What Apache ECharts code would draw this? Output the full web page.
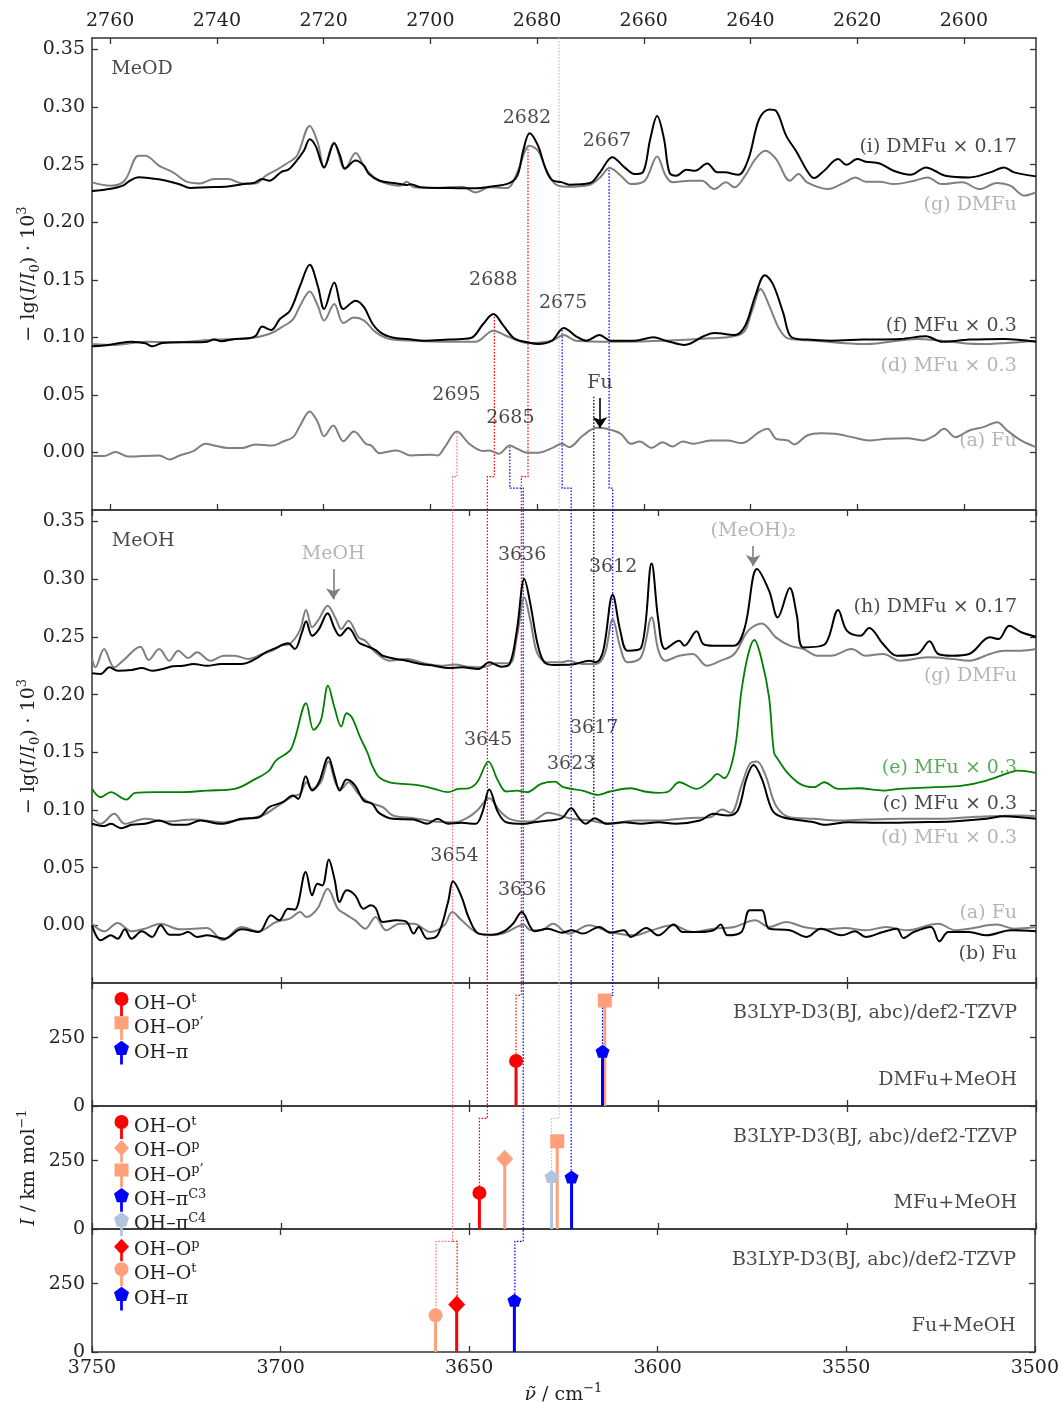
<!DOCTYPE html>
<html><head><meta charset="utf-8">
<script src="https://cdn.jsdelivr.net/npm/echarts@6/dist/echarts.min.js"></script>
<style>html,body{margin:0;padding:0;background:#fff}#c{width:1062px;height:1409px}</style>
</head><body><div id="c"></div><script>
// ---------- tick labels ----------
const odTicks = [2600,2620,2640,2660,2680,2700,2720,2740,2760];
const ohTicks = [3500,3550,3600,3650,3700,3750];
const absTicks = [0,0.05,0.10,0.15,0.20,0.25,0.30,0.35];
const intTicks = [0,250];

// ---------- MeOD panel (x = OD wavenumber) ----------
const meod_i_DMFu = [[2763.4,0.227],[2759.9,0.229],[2757.6,0.2317],[2756.3,0.236],[2754.7,0.239],[2752.8,0.2383],[2749.5,0.236],[2747.0,0.233],[2745.0,0.2297],[2741.8,0.2303],[2737.9,0.231],[2735.3,0.233],[2733.1,0.234],[2731.5,0.2375],[2730.2,0.236],[2727.9,0.2438],[2726.6,0.2456],[2725.3,0.2519],[2723.7,0.262],[2722.6,0.2721],[2721.5,0.2663],[2719.9,0.2476],[2718.0,0.2686],[2716.9,0.2577],[2716.0,0.2467],[2714.0,0.2536],[2712.4,0.249],[2711.5,0.2418],[2709.5,0.236],[2706.3,0.2337],[2704.4,0.2323],[2703.7,0.233],[2701.8,0.2303],[2696.6,0.2297],[2691.5,0.2294],[2688.9,0.2308],[2685.3,0.2337],[2683.7,0.2404],[2682.6,0.262],[2681.4,0.2773],[2679.8,0.2663],[2678.5,0.2476],[2677.2,0.2366],[2675.3,0.2346],[2674.0,0.2326],[2670.1,0.234],[2668.2,0.2433],[2665.9,0.2565],[2663.6,0.2476],[2661.7,0.2418],[2660.1,0.2438],[2658.8,0.2721],[2657.5,0.2923],[2656.2,0.2721],[2655.2,0.2433],[2653.9,0.2404],[2652.0,0.2456],[2650.4,0.2447],[2648.1,0.251],[2646.2,0.2433],[2644.9,0.2433],[2642.3,0.2412],[2640.4,0.2548],[2638.4,0.2894],[2636.5,0.298],[2635.2,0.2966],[2633.3,0.275],[2631.3,0.2606],[2629.4,0.2447],[2628.1,0.2383],[2626.2,0.2447],[2623.6,0.2548],[2622.0,0.2499],[2620.0,0.2548],[2618.4,0.2525],[2615.8,0.251],[2613.2,0.2447],[2610.0,0.2412],[2607.1,0.2476],[2605.5,0.2447],[2603.5,0.2404],[2599.0,0.2389],[2595.1,0.2433],[2592.5,0.2476],[2590.6,0.2433],[2586.5,0.2398]];
const meod_g_DMFu = [[2763.4,0.2346],[2759.9,0.2317],[2757.3,0.236],[2754.7,0.2577],[2753.4,0.2577],[2750.8,0.249],[2748.2,0.2433],[2745.7,0.2352],[2743.1,0.2337],[2740.5,0.2375],[2737.9,0.2375],[2735.3,0.2337],[2732.8,0.2337],[2730.8,0.2404],[2728.9,0.2453],[2726.9,0.251],[2725.0,0.2577],[2722.6,0.2836],[2721.1,0.2692],[2719.9,0.2476],[2718.1,0.2692],[2716.0,0.2461],[2714.0,0.26],[2712.1,0.2461],[2709.5,0.236],[2705.6,0.2317],[2704.4,0.2352],[2703.1,0.2303],[2699.2,0.2297],[2694.0,0.2308],[2691.5,0.2259],[2688.9,0.2303],[2685.6,0.2297],[2683.7,0.2433],[2681.4,0.2663],[2679.8,0.262],[2678.2,0.2447],[2676.6,0.2331],[2674.6,0.2308],[2670.1,0.2326],[2668.2,0.2389],[2666.4,0.247],[2664.3,0.2404],[2662.4,0.2331],[2659.8,0.236],[2657.5,0.2571],[2655.9,0.2404],[2654.6,0.2346],[2651.4,0.236],[2649.1,0.236],[2646.8,0.2288],[2644.6,0.2346],[2643.0,0.2303],[2641.0,0.2404],[2639.1,0.2548],[2637.2,0.262],[2635.2,0.2548],[2632.6,0.236],[2631.0,0.2418],[2629.4,0.2346],[2625.5,0.2288],[2622.3,0.2346],[2620.4,0.2389],[2618.4,0.2352],[2615.8,0.2352],[2613.2,0.2331],[2609.3,0.236],[2606.8,0.2389],[2604.2,0.2331],[2600.3,0.2346],[2597.1,0.2288],[2593.8,0.234],[2591.3,0.2317],[2588.7,0.2231],[2586.5,0.226]];
const meod_f_MFu = [[2763.4,0.0922],[2761.2,0.0928],[2759.2,0.0942],[2756.0,0.0962],[2753.4,0.0948],[2752.1,0.0922],[2750.2,0.0951],[2747.0,0.0957],[2744.4,0.0957],[2741.8,0.0962],[2740.5,0.098],[2739.2,0.0966],[2736.6,0.0986],[2734.0,0.0991],[2732.7,0.1014],[2731.5,0.1093],[2729.8,0.1064],[2728.2,0.1159],[2726.3,0.1231],[2724.4,0.1448],[2722.6,0.163],[2721.1,0.1448],[2719.9,0.1246],[2718.0,0.1477],[2716.3,0.1246],[2714.0,0.1318],[2712.4,0.126],[2710.8,0.1116],[2708.9,0.1029],[2706.3,0.0991],[2704.4,0.0986],[2701.1,0.0971],[2696.6,0.098],[2694.0,0.0986],[2692.1,0.1],[2690.1,0.1116],[2688.2,0.1202],[2686.3,0.1101],[2684.3,0.0991],[2681.8,0.0957],[2679.8,0.0942],[2677.2,0.0971],[2675.0,0.1081],[2672.7,0.1009],[2670.8,0.0971],[2668.3,0.102],[2666.2,0.0971],[2661.7,0.0971],[2658.2,0.1],[2655.9,0.0971],[2652.3,0.0934],[2648.8,0.1009],[2646.8,0.1038],[2643.0,0.102],[2641.0,0.1101],[2639.1,0.1361],[2637.3,0.154],[2635.8,0.1462],[2633.9,0.1217],[2632.3,0.1],[2629.4,0.098],[2624.9,0.0971],[2619.0,0.098],[2611.9,0.0986],[2607.1,0.1009],[2604.2,0.0962],[2599.0,0.098],[2592.5,0.0986],[2586.5,0.0962]];
const meod_d_MFu = [[2763.4,0.0942],[2759.2,0.0934],[2753.4,0.0962],[2747.0,0.0957],[2740.5,0.098],[2734.0,0.0991],[2730.2,0.1029],[2727.6,0.1095],[2725.7,0.1159],[2724.4,0.1275],[2722.6,0.1399],[2721.1,0.1275],[2719.9,0.1145],[2718.0,0.129],[2716.3,0.1124],[2714.3,0.1173],[2712.4,0.1145],[2710.2,0.1043],[2707.6,0.0986],[2703.1,0.0971],[2696.6,0.0962],[2691.5,0.0962],[2688.2,0.1058],[2685.6,0.1009],[2681.8,0.0951],[2677.2,0.0971],[2675.0,0.102],[2672.7,0.0971],[2663.6,0.0962],[2647.5,0.0991],[2641.7,0.1029],[2639.7,0.1231],[2638.1,0.1419],[2636.5,0.1275],[2634.6,0.1072],[2633.0,0.0991],[2628.1,0.0971],[2618.4,0.0942],[2608.7,0.0986],[2597.1,0.0942],[2586.5,0.0971]];
const meod_a_Fu = [[2763.4,-0.0032],[2761.2,-0.0032],[2759.0,0.0003],[2756.7,-0.0035],[2750.8,-0.0026],[2748.9,-0.0061],[2747.0,-0.0026],[2744.4,0.0012],[2742.1,0.0075],[2740.5,0.0061],[2737.9,0.0038],[2735.3,0.0038],[2732.8,0.007],[2729.5,0.0061],[2727.6,0.0095],[2725.7,0.0133],[2724.4,0.0234],[2722.6,0.0356],[2721.1,0.0263],[2719.9,0.0141],[2718.2,0.0234],[2716.3,0.0098],[2714.3,0.0182],[2712.1,0.0075],[2711.1,0.0061],[2709.5,-0.0006],[2706.3,0.0017],[2703.7,-0.0026],[2699.8,-0.002],[2698.6,-0.0026],[2697.3,0.0046],[2695.0,0.0182],[2692.7,0.0075],[2690.1,0.0012],[2688.9,0.0017],[2687.2,-0.0012],[2685.1,0.0061],[2683.7,0.0032],[2681.8,-0.0003],[2679.8,-0.0003],[2677.2,0.0038],[2675.3,0.0075],[2674.0,0.0046],[2671.4,0.0147],[2668.8,0.0214],[2666.9,0.0205],[2664.3,0.0162],[2662.4,0.0075],[2660.8,0.0095],[2658.5,0.004],[2656.5,0.0089],[2654.6,0.0052],[2652.7,0.0095],[2650.7,0.0075],[2647.5,0.0104],[2644.3,0.0104],[2641.7,0.0081],[2638.4,0.0176],[2636.8,0.0205],[2635.2,0.0118],[2633.0,0.0104],[2631.8,0.007],[2629.4,0.0147],[2626.8,0.0167],[2624.2,0.0162],[2621.0,0.0133],[2617.8,0.0104],[2614.5,0.0118],[2610.6,0.0124],[2607.7,0.0104],[2605.5,0.0147],[2603.7,0.0205],[2601.6,0.0133],[2599.0,0.0191],[2596.4,0.022],[2593.8,0.0263],[2591.9,0.0191],[2589.3,0.0104],[2586.5,0.0046]];

// ---------- MeOH panel (x = OH wavenumber) ----------
const meoh_h_DMFu = [[3750,0.2184],[3747.7,0.2179],[3745.4,0.2236],[3743.2,0.2207],[3739.5,0.2213],[3736.8,0.223],[3734.1,0.2207],[3731.3,0.2222],[3728.6,0.2245],[3725.9,0.225],[3723.1,0.2265],[3719.5,0.225],[3715.8,0.2265],[3710.4,0.2265],[3706.7,0.2309],[3704.0,0.2366],[3701.3,0.2404],[3698.1,0.2444],[3696.3,0.2395],[3694.4,0.2539],[3693.3,0.2635],[3691.7,0.251],[3689.9,0.2568],[3687.6,0.2704],[3685.8,0.2577],[3684.4,0.251],[3682.1,0.2577],[3679.4,0.2453],[3677.6,0.2424],[3674.9,0.2386],[3673.0,0.2337],[3669.4,0.2309],[3666.7,0.2294],[3663.0,0.2265],[3659.4,0.225],[3655.7,0.223],[3652.1,0.2236],[3647.6,0.2222],[3644.8,0.228],[3641.7,0.2242],[3639.4,0.2265],[3637.5,0.2554],[3635.5,0.3001],[3633.9,0.2784],[3632.0,0.2438],[3630.2,0.228],[3627.4,0.2257],[3622.9,0.226],[3618.3,0.2294],[3616.5,0.228],[3614.6,0.2381],[3612.1,0.2866],[3610.1,0.2554],[3608.2,0.2381],[3604.6,0.2404],[3601.8,0.3137],[3600.0,0.264],[3598.2,0.2395],[3594.5,0.2467],[3593.1,0.2424],[3589.9,0.2548],[3588.1,0.2438],[3585.4,0.2424],[3579.9,0.2424],[3577.1,0.2583],[3573.9,0.3088],[3570.7,0.2901],[3568.4,0.2669],[3565.2,0.2924],[3563.4,0.2698],[3561.6,0.2409],[3556.1,0.2432],[3552.4,0.2733],[3550.1,0.2554],[3546.5,0.251],[3544.2,0.2577],[3540.5,0.2438],[3536.9,0.2337],[3531.4,0.2352],[3528.2,0.2462],[3525.9,0.2352],[3522.2,0.2337],[3517.7,0.2352],[3512.2,0.2496],[3509.9,0.2481],[3507.1,0.2597],[3503.9,0.254],[3500,0.2502]];
const meoh_g_DMFu = [[3750,0.2317],[3749.1,0.2236],[3746.8,0.2395],[3744.1,0.2236],[3741.8,0.2294],[3737.2,0.2415],[3735.0,0.23],[3732.2,0.2395],[3729.5,0.2294],[3727.2,0.2381],[3724.5,0.2317],[3722.2,0.2366],[3718.6,0.2294],[3715.1,0.2337],[3712.2,0.2337],[3708.6,0.2309],[3704.9,0.2352],[3702.2,0.2381],[3700.0,0.2424],[3697.7,0.2438],[3695.0,0.2554],[3693.3,0.2733],[3691.7,0.2583],[3689.9,0.2655],[3687.6,0.277],[3685.4,0.2655],[3684.0,0.2568],[3682.1,0.264],[3679.4,0.2496],[3677.6,0.2467],[3674.9,0.2366],[3671.2,0.2294],[3666.7,0.2309],[3662.1,0.2271],[3657.6,0.225],[3653.9,0.226],[3650.3,0.2242],[3646.6,0.2236],[3643.0,0.2271],[3639.4,0.2271],[3637.5,0.2496],[3635.5,0.2842],[3633.9,0.264],[3632.0,0.2352],[3629.3,0.228],[3625.6,0.228],[3623.8,0.2294],[3620.1,0.2265],[3616.5,0.2265],[3614.2,0.2352],[3612.1,0.2655],[3610.1,0.2409],[3608.2,0.228],[3604.6,0.2323],[3601.8,0.2669],[3600.0,0.2381],[3598.2,0.2294],[3594.5,0.2337],[3590.9,0.2352],[3587.2,0.225],[3583.5,0.2294],[3579.9,0.2352],[3576.2,0.2554],[3572.6,0.2617],[3568.9,0.2496],[3565.2,0.2424],[3561.6,0.2395],[3557.9,0.2337],[3554.3,0.2337],[3548.8,0.2395],[3545.1,0.2337],[3540.5,0.2352],[3536.0,0.2294],[3528.7,0.2323],[3522.2,0.2309],[3517.7,0.2294],[3512.2,0.2352],[3508.5,0.2381],[3503.9,0.2381],[3500,0.2395]];
const meoh_e_MFu = [[3750,0.1183],[3747.7,0.111],[3745.0,0.1154],[3740.9,0.109],[3738.6,0.1148],[3733.2,0.1154],[3726.8,0.1154],[3719.5,0.1168],[3712.2,0.1183],[3706.7,0.1269],[3703.1,0.1341],[3701.3,0.1428],[3697.6,0.1514],[3696.3,0.1616],[3693.3,0.1925],[3691.3,0.1694],[3689.4,0.1775],[3687.5,0.2078],[3685.8,0.189],[3684.0,0.1723],[3682.6,0.1838],[3681.2,0.1804],[3679.0,0.1631],[3677.1,0.15],[3675.8,0.1385],[3674.0,0.1284],[3671.2,0.124],[3667.6,0.1226],[3663.0,0.1211],[3659.4,0.1183],[3655.7,0.1154],[3653.0,0.1183],[3650.3,0.1188],[3648.0,0.124],[3645.0,0.1419],[3642.5,0.1255],[3640.3,0.116],[3637.5,0.1168],[3634.8,0.1154],[3631.1,0.1226],[3627.4,0.1246],[3625.2,0.1197],[3620.1,0.1168],[3616.0,0.1131],[3612.8,0.116],[3607.3,0.1188],[3603.7,0.116],[3600.0,0.1148],[3597.3,0.116],[3594.5,0.124],[3589.9,0.1183],[3586.3,0.1255],[3584.4,0.1313],[3582.6,0.1275],[3579.9,0.15],[3578.0,0.2034],[3576.2,0.2352],[3574.6,0.2473],[3572.6,0.2294],[3570.7,0.1977],[3569.4,0.15],[3568.4,0.1442],[3566.1,0.1333],[3562.5,0.1226],[3558.8,0.1197],[3556.1,0.124],[3552.4,0.1183],[3546.9,0.1188],[3540.5,0.1168],[3536.0,0.1183],[3526.8,0.1197],[3519.5,0.1211],[3513.1,0.1255],[3506.7,0.1327],[3504.8,0.1341],[3500,0.1321]];
const meoh_c_MFu = [[3750,0.088],[3746.8,0.086],[3745.0,0.088],[3742.3,0.0842],[3739.5,0.0871],[3736.0,0.088],[3732.2,0.0908],[3728.6,0.0871],[3725.0,0.0871],[3721.3,0.0908],[3715.8,0.088],[3710.4,0.0923],[3705.8,0.0937],[3703.1,0.1024],[3699.5,0.1067],[3696.8,0.1125],[3695.4,0.1096],[3693.4,0.1292],[3691.7,0.1168],[3689.9,0.124],[3687.4,0.1457],[3685.8,0.1298],[3684.4,0.1168],[3682.6,0.1263],[3680.3,0.1211],[3678.1,0.1082],[3675.8,0.1053],[3674.0,0.0975],[3670.3,0.0923],[3664.8,0.0917],[3661.2,0.088],[3658.5,0.0923],[3655.7,0.088],[3652.1,0.0888],[3648.4,0.088],[3646.6,0.0981],[3644.8,0.1177],[3642.5,0.0981],[3640.3,0.0894],[3635.7,0.088],[3632.9,0.0894],[3629.3,0.0908],[3625.6,0.0929],[3623.1,0.1015],[3621.0,0.0929],[3619.2,0.088],[3616.9,0.0929],[3613.7,0.088],[3609.1,0.0894],[3604.6,0.088],[3600.0,0.0894],[3595.4,0.088],[3589.0,0.0908],[3585.4,0.0966],[3581.7,0.0952],[3579.0,0.0995],[3576.7,0.1269],[3574.8,0.139],[3572.6,0.1269],[3569.8,0.0995],[3567.1,0.0937],[3558.8,0.0894],[3556.1,0.0871],[3549.7,0.0894],[3540.5,0.0888],[3531.4,0.0894],[3522.2,0.09],[3513.1,0.0923],[3508.5,0.0946],[3500,0.0923]];
const meoh_d_MFu = [[3750,0.0929],[3747.7,0.088],[3744.1,0.0966],[3741.3,0.088],[3736.0,0.0923],[3730.4,0.09],[3723.1,0.0917],[3715.8,0.0894],[3710.4,0.0917],[3704.9,0.0952],[3701.3,0.1024],[3696.8,0.1119],[3694.9,0.1139],[3693.2,0.124],[3691.7,0.1183],[3689.4,0.124],[3687.4,0.1419],[3685.4,0.1226],[3684.0,0.1183],[3682.1,0.124],[3679.4,0.1139],[3676.7,0.1067],[3673.0,0.1024],[3670.3,0.0952],[3664.8,0.0929],[3659.4,0.09],[3653.9,0.0894],[3650.3,0.0937],[3648.0,0.0995],[3644.8,0.1102],[3642.1,0.0995],[3639.4,0.0923],[3634.8,0.09],[3632.9,0.0908],[3629.3,0.0975],[3627.4,0.0966],[3622.9,0.0923],[3618.3,0.0908],[3612.8,0.088],[3606.4,0.0908],[3600.0,0.0908],[3592.7,0.0929],[3586.3,0.0937],[3583.1,0.1004],[3580.8,0.0975],[3578.0,0.1211],[3575.8,0.1399],[3573.9,0.1419],[3571.6,0.1298],[3568.9,0.1038],[3565.2,0.0937],[3558.8,0.0923],[3552.4,0.0908],[3545.1,0.0917],[3536.0,0.0923],[3526.8,0.0923],[3517.7,0.0937],[3512.2,0.0946],[3503.9,0.0952],[3500,0.0946]];
const meoh_b_Fu = [[3750,0.0],[3747.7,-0.013],[3745.0,-0.0087],[3743.2,-0.0116],[3741.3,-0.0035],[3739.5,-0.0116],[3736.8,-0.0052],[3734.1,-0.0101],[3731.8,0.0],[3729.5,-0.0081],[3726.8,-0.0081],[3724.5,-0.0058],[3722.2,-0.0101],[3719.5,-0.0087],[3714.9,-0.0116],[3710.4,-0.0035],[3705.8,-0.0058],[3702.6,0.0087],[3700.4,0.0043],[3698.1,0.0144],[3696.3,0.0136],[3693.4,0.0462],[3691.7,0.026],[3690.3,0.036],[3689.0,0.0346],[3687.3,0.0571],[3685.8,0.0404],[3684.4,0.0202],[3682.6,0.0303],[3680.3,0.026],[3678.1,0.0144],[3676.2,0.0173],[3674.9,0.015],[3673.0,0.0029],[3669.4,0.0043],[3666.7,0.0029],[3664.8,-0.0072],[3663.5,-0.0014],[3661.2,-0.0116],[3658.5,-0.0087],[3655.7,0.0202],[3654.4,0.0381],[3652.1,0.0245],[3650.3,0.0072],[3647.6,-0.0072],[3644.0,-0.0081],[3641.2,-0.0058],[3638.5,0.0014],[3636.2,0.0115],[3633.9,-0.0014],[3632.9,-0.0052],[3629.3,-0.0029],[3625.6,-0.0064],[3622.9,-0.0043],[3620.1,-0.0072],[3615.6,-0.0014],[3612.8,-0.0064],[3609.1,-0.0043],[3607.3,-0.0101],[3603.2,-0.0023],[3600.0,-0.0087],[3595.9,0.0006],[3593.6,-0.0058],[3589.0,-0.0058],[3585.4,-0.0043],[3583.5,0.0006],[3581.7,-0.0087],[3578.0,-0.0058],[3575.8,0.013],[3572.6,0.013],[3570.7,-0.0029],[3565.2,-0.0043],[3560.7,-0.0101],[3557.0,-0.0029],[3551.5,-0.0087],[3547.9,-0.0052],[3545.1,-0.0101],[3540.5,-0.0058],[3536.9,-0.0029],[3535.1,-0.011],[3532.4,-0.0058],[3527.8,-0.0014],[3525.6,-0.0139],[3523.2,-0.0058],[3517.7,-0.0058],[3513.1,-0.0087],[3506.7,-0.0043],[3500,-0.0052]];
const meoh_a_Fu = [[3750,0.0014],[3746.8,-0.0052],[3743.2,0.002],[3739.5,-0.0052],[3736.0,-0.0029],[3731.8,0.0014],[3726.8,-0.0035],[3719.5,-0.0023],[3715.4,-0.013],[3710.4,-0.0014],[3705.8,-0.0052],[3701.3,0.0029],[3697.6,0.0058],[3694.9,0.0115],[3693.2,0.0072],[3690.3,0.0144],[3687.6,0.0317],[3684.9,0.0144],[3683.1,0.0101],[3680.3,0.0043],[3677.6,-0.0029],[3674.9,0.0072],[3672.1,-0.0043],[3668.5,0.0014],[3664.8,0.0014],[3660.3,-0.0058],[3656.7,0.0],[3654.6,0.0115],[3652.1,0.0043],[3648.4,-0.0058],[3644.8,-0.0087],[3641.2,-0.0072],[3637.5,-0.0014],[3635.7,0.0006],[3633.9,-0.0043],[3631.1,-0.0043],[3627.9,0.0014],[3623.8,-0.0072],[3618.3,0.0],[3612.8,-0.0058],[3606.4,-0.0087],[3601.8,-0.0043],[3596.3,0.0],[3590.9,-0.0058],[3585.4,-0.0029],[3579.9,-0.0014],[3574.4,0.0043],[3570.7,-0.0014],[3566.1,0.0029],[3561.6,-0.0014],[3556.1,-0.0035],[3550.6,-0.0023],[3545.1,-0.0043],[3539.6,-0.0014],[3534.2,-0.0043],[3525.9,0.0014],[3521.3,-0.0043],[3517.7,-0.0029],[3510.4,0.0006],[3505.8,-0.0029],[3500,-0.0014]];

// ---------- computed sticks (wavenumber, intensity km/mol) ----------
const dmfuStickFreq = [3637.7, 3614.2, 3614.8];
const dmfuStickInt  = [165, 386, 200];
const mfuStickFreq  = [3647.4, 3640.7, 3626.8, 3623.0, 3628.3];
const mfuStickInt   = [132, 257, 321, 190, 192];
const fuStickFreq   = [3653.3, 3658.9, 3638.0];
const fuStickInt    = [174, 134, 189];

const FONT = 'DejaVu Serif';
const FS = 19;
const GRAY = '#7f7f7f', LGRAY = '#a3a3a3', GREEN = '#008000', RED = '#ff0000', SALMON = '#ffa07a', BLUE = '#0000ff', LBLUE = '#b0c4de';

const P_CIRC = 'circle';
const P_SQ = 'rect';
const P_DIA = 'diamond';
const P_PENT = 'path://M10,0 L19.5,6.9 L15.9,18.1 L4.1,18.1 L0.5,6.9 Z';
const L_CIRC = 'path://M3,7 A7,7 0 1 1 17,7 A7,7 0 1 1 3,7 Z M8.6,12 L11.4,12 L11.4,24 L8.6,24 Z';
const L_SQ = 'path://M3,0 L17,0 L17,13 L3,13 Z M8.6,13 L11.4,13 L11.4,24 L8.6,24 Z';
const L_DIA = 'path://M10,0 L18,8.5 L10,17 L2,8.5 Z M8.6,15 L11.4,15 L11.4,24 L8.6,24 Z';
const L_PENT = 'path://M10,0 L17.6,5.5 L14.7,14.5 L5.3,14.5 L2.4,5.5 Z M8.6,14 L11.4,14 L11.4,24 L8.6,24 Z';

const chart = echarts.init(document.getElementById('c'), null, {renderer:'canvas'});

const G = [
  {left:92,right:26,top:38,height:472},
  {left:92,right:26,top:510,height:473},
  {left:92,right:26,top:983,height:123},
  {left:92,right:26,top:1106,height:123},
  {left:92,right:26,top:1229,height:123}
];
const axLine = {show:true, onZero:false, lineStyle:{color:'#333', width:1.5}};
const tickStyle = {color:'#333', width:1.3};
function xa(grid, pos, od, labels, extra){
  const t = od ? odTicks : ohTicks;
  return Object.assign({type:'value', gridIndex:grid, position:pos, inverse:true,
    min: od?2586.5:3500, max: od?2763.4:3750, axisLine:axLine, splitLine:{show:false},
    axisTick:{show:true, inside:true, length:6, lineStyle:tickStyle, customValues:t},
    axisLabel:{show:labels, customValues:t, margin:7, fontFamily:FONT, fontSize:FS, color:'#222',
      formatter: v => String(Math.round(v))}}, extra||{});
}
function ya(grid, pos, abs, labels, extra){
  const t = abs ? absTicks : intTicks;
  return Object.assign({type:'value', gridIndex:grid, position:pos,
    min: abs?-0.05:0, max: abs?0.36:450, axisLine:axLine, splitLine:{show:false},
    axisTick:{show:true, inside:true, length:6, lineStyle:tickStyle, customValues:t},
    axisLabel:{show:labels, customValues:t, margin:7, fontFamily:FONT, fontSize:FS, color:'#222',
      formatter: v => abs ? v.toFixed(2) : String(Math.round(v))}}, extra||{});
}
const nameRich = {
  n:{fontFamily:FONT, fontSize:FS, lineHeight:26, color:'#222'},
  i:{fontFamily:FONT, fontSize:FS, fontStyle:'italic', lineHeight:26, color:'#222'},
  p:{fontFamily:FONT, fontSize:13, lineHeight:14, verticalAlign:'top', color:'#222'},
  b:{fontFamily:FONT, fontSize:13, lineHeight:14, verticalAlign:'bottom', color:'#222'}
};
const absName = '{n|− lg(}{i|I}{n|/}{i|I}{b|0}{n|) · 10}{p|3}';
const absNameOpt = {name:absName, nameLocation:'middle', nameRotate:90, nameGap:50, nameMoveOverlap:false, nameTextStyle:{rich:nameRich}};

const xAxes = [
  xa(0,'top',true,true), xa(0,'bottom',true,false),
  xa(1,'top',false,false), xa(1,'bottom',false,false),
  xa(2,'top',false,false), xa(2,'bottom',false,false),
  xa(3,'top',false,false), xa(3,'bottom',false,false),
  xa(4,'top',false,false), xa(4,'bottom',false,true,
     {name:'{i|ν̃}{n| / cm}{p|−1}', nameLocation:'middle', nameGap:30, nameTextStyle:{rich:nameRich}})
];
const yAxes = [
  ya(0,'left',true,true,absNameOpt), ya(1,'left',true,true,absNameOpt),
  ya(2,'left',false,true), ya(3,'left',false,true,
     {name:'{i|I}{n| / km mol}{p|−1}', nameLocation:'middle', nameRotate:90, nameGap:50, nameMoveOverlap:false, nameTextStyle:{rich:nameRich}}),
  ya(4,'left',false,true),
  ya(0,'right',true,false), ya(1,'right',true,false), ya(2,'right',false,false), ya(3,'right',false,false), ya(4,'right',false,false)
];
const XI = [0,3,5,7,9]; // x axis index used by each panel

function curve(name, data, p, color, w, z){
  return {type:'line', name, data, xAxisIndex:XI[p], yAxisIndex:p, symbol:'none', showSymbol:false,
    smooth:0.35, lineStyle:{color, width:w}, itemStyle:{color}, silent:true, z:z||3};
}
function stick(name, f, v, p, color, symbol, size){
  return {type:'line', name, xAxisIndex:XI[p], yAxisIndex:p,
    data:[{value:[f,0], symbol:'none'},{value:[f,v]}], symbol, symbolSize:size, showSymbol:true,
    lineStyle:{color, width:3}, itemStyle:{color}, z:6, silent:true};
}
function ann(p, items, arrows){
  const s = {type:'scatter', xAxisIndex:XI[p], yAxisIndex:p, symbolSize:0.1, itemStyle:{color:'transparent'}, silent:true, z:8,
    label:{show:true, formatter:'{b}', fontFamily:FONT, fontSize:FS, color:'#1a1a1a'},
    data: items.map(it => {
      const pos = it[3]==='R' ? 'left' : it[3]==='L' ? 'right' : 'inside';
      return {name:it[0], value:[it[1],it[2]], label:{position:pos, distance:0, color:it[4]||'#1a1a1a'}};
    })};
  if (arrows) s.markLine = {silent:true, symbol:['none','arrow'], symbolSize:11, animation:false,
    label:{show:false}, lineStyle:{type:'solid', width:1.6},
    data: arrows.map(a => [{coord:[a[0],a[1]], lineStyle:{color:a[3], width:1.6, type:'solid'}, itemStyle:{color:a[3]}},{coord:[a[0],a[2]], itemStyle:{color:a[3]}}])};
  return s;
}

const series = [
  curve('g1', meod_g_DMFu, 0, GRAY, 2),
  curve('i1', meod_i_DMFu, 0, '#000', 2, 4),
  curve('d1', meod_d_MFu, 0, GRAY, 2),
  curve('f1', meod_f_MFu, 0, '#000', 2, 4),
  curve('a1', meod_a_Fu, 0, GRAY, 2),
  curve('g2', meoh_g_DMFu, 1, GRAY, 2),
  curve('h2', meoh_h_DMFu, 1, '#000', 2, 4),
  curve('e2', meoh_e_MFu, 1, GREEN, 1.8),
  curve('d2', meoh_d_MFu, 1, GRAY, 2),
  curve('c2', meoh_c_MFu, 1, '#000', 2, 4),
  curve('a2', meoh_a_Fu, 1, GRAY, 2),
  curve('b2', meoh_b_Fu, 1, '#000', 2, 4),
  // DMFu sticks
  stick('D-Ot', dmfuStickFreq[0], dmfuStickInt[0], 2, RED, P_CIRC, 14),
  stick('D-Opp', dmfuStickFreq[1], dmfuStickInt[1], 2, SALMON, P_SQ, 14),
  stick('D-pi', dmfuStickFreq[2], dmfuStickInt[2], 2, BLUE, P_PENT, [14,13]),
  // MFu sticks
  stick('M-Ot', mfuStickFreq[0], mfuStickInt[0], 3, RED, P_CIRC, 14),
  stick('M-Op', mfuStickFreq[1], mfuStickInt[1], 3, SALMON, P_DIA, [17,18]),
  stick('M-Opp', mfuStickFreq[2], mfuStickInt[2], 3, SALMON, P_SQ, 14),
  stick('M-piC3', mfuStickFreq[3], mfuStickInt[3], 3, BLUE, P_PENT, [14,13]),
  stick('M-piC4', mfuStickFreq[4], mfuStickInt[4], 3, LBLUE, P_PENT, [14,13]),
  // Fu sticks
  stick('F-Op', fuStickFreq[0], fuStickInt[0], 4, RED, P_DIA, [17,18]),
  stick('F-Ot', fuStickFreq[1], fuStickInt[1], 4, SALMON, P_CIRC, 14),
  stick('F-pi', fuStickFreq[2], fuStickInt[2], 4, BLUE, P_PENT, [14,13]),
  ann(0, [
    ['MeOD', 2759.8, 0.333, 'L'],
    ['2682', 2681.9, 0.2905, 'C'], ['2667', 2666.9, 0.2705, 'C'],
    ['(i) DMFu × 0.17', 2590.1, 0.2653, 'R'], ['(g) DMFu', 2590.1, 0.2149, 'R', LGRAY],
    ['2688', 2688.2, 0.1498, 'C'], ['2675', 2675.1, 0.1298, 'C'],
    ['(f) MFu × 0.3', 2590.1, 0.1098, 'R'], ['(d) MFu × 0.3', 2590.1, 0.0751, 'R', LGRAY],
    ['2695', 2695.1, 0.0499, 'C'], ['2685', 2685.0, 0.0299, 'C'],
    ['Fu', 2668.2, 0.0603, 'C'], ['(a) Fu', 2590.1, 0.0099, 'R', LGRAY]
  ], [[2668.2, 0.0473, 0.0212, '#000']]),
  ann(1, [
    ['MeOH', 3744.8, 0.3331, 'L'], ['MeOH', 3686.1, 0.3218, 'C', LGRAY],
    ['3636', 3636.1, 0.3209, 'C'], ['3612', 3612.0, 0.3105, 'C'],
    ['(MeOH)₂', 3574.9, 0.3418, 'C', LGRAY],
    ['(h) DMFu × 0.17', 3505, 0.2757, 'R'], ['(g) DMFu', 3505, 0.2158, 'R', LGRAY],
    ['3617', 3617.0, 0.1706, 'C'], ['3645', 3645.1, 0.1602, 'C'], ['3623', 3623.1, 0.1402, 'C'],
    ['(e) MFu × 0.3', 3505, 0.1359, 'R', '#2e9a2e'], ['(c) MFu × 0.3', 3505, 0.1055, 'R'],
    ['(d) MFu × 0.3', 3505, 0.076, 'R', LGRAY],
    ['3654', 3654.0, 0.0603, 'C'], ['3636', 3636.1, 0.0308, 'C'],
    ['(a) Fu', 3505, 0.0108, 'R', LGRAY], ['(b) Fu', 3505, -0.0248, 'R']
  ], [[3686.1, 0.3088, 0.2827, GRAY], [3574.9, 0.3288, 0.3114, GRAY]]),
  ann(2, [['B3LYP-D3(BJ, abc)/def2-TZVP', 3505, 340, 'R'], ['DMFu+MeOH', 3505, 95, 'R']]),
  ann(3, [['B3LYP-D3(BJ, abc)/def2-TZVP', 3505, 337, 'R'], ['MFu+MeOH', 3505, 95, 'R']]),
  ann(4, [['B3LYP-D3(BJ, abc)/def2-TZVP', 3505, 337, 'R'], ['Fu+MeOH', 3505, 95, 'R']])
];

const legendText = {
  'D-Ot':'OH–O{s|t}', 'D-Opp':'OH–O{s|p’}', 'D-pi':'OH–π',
  'M-Ot':'OH–O{s|t}', 'M-Op':'OH–O{s|p}', 'M-Opp':'OH–O{s|p’}', 'M-piC3':'OH–π{s|C3}', 'M-piC4':'OH–π{s|C4}',
  'F-Op':'OH–O{s|p}', 'F-Ot':'OH–O{s|t}', 'F-pi':'OH–π'
};
function legend(top, items){
  return {top, left:109, orient:'vertical', itemWidth:15, itemHeight:24, itemGap:0.3, selectedMode:false,
    symbolKeepAspect:true, itemStyle:{borderWidth:0},
    formatter: n => legendText[n],
    textStyle:{fontFamily:FONT, fontSize:FS, color:'#222', lineHeight:24, padding:[0,0,0,0],
      rich:{s:{fontFamily:FONT, fontSize:13, lineHeight:12, verticalAlign:'top', color:'#222'}}},
    data: items.map(it => ({name:it[0], icon:it[1]}))};
}

chart.setOption({
  animation:false,
  textStyle:{fontFamily:FONT},
  grid:G, xAxis:xAxes, yAxis:yAxes, series,
  legend:[
    legend(987, [['D-Ot',L_CIRC],['D-Opp',L_SQ],['D-pi',L_PENT]]),
    legend(1110, [['M-Ot',L_CIRC],['M-Op',L_DIA],['M-Opp',L_SQ],['M-piC3',L_PENT],['M-piC4',L_PENT]]),
    legend(1233, [['F-Op',L_DIA],['F-Ot',L_CIRC],['F-pi',L_PENT]])
  ]
});

// ---------- dotted assignment connectors: [xAxisIndex, x, yAxisIndex, y] ----------
const OD = 0, OH = 3;
const connectors = [
  {c:RED, pts:[[OD,2681.7,0,0.2664],[OD,2681.7,0,-0.021],[OH,3636.3,0,-0.021],[OH,3636.3,2,405],[OH,3637.7,2,405],[OH,3637.7,2,165]]},
  {c:BLUE, pts:[[OD,2666.5,0,0.2482],[OD,2666.5,0,-0.031],[OH,3612.1,0,-0.031],[OH,3612.1,2,405],[OH,3614.8,2,405],[OH,3614.8,2,200]]},
  {c:RED, pts:[[OD,2688.0,0,0.1179],[OD,2688.0,0,-0.021],[OH,3645.3,0,-0.021],[OH,3645.3,3,405],[OH,3647.4,3,405],[OH,3647.4,3,132]]},
  {c:BLUE, pts:[[OD,2675.3,0,0.1064],[OD,2675.3,0,-0.031],[OH,3623.1,0,-0.031],[OH,3623.1,3,190]]},
  {c:LBLUE, pts:[[OH,3626.3,0,0.36],[OH,3626.3,3,405],[OH,3628.3,3,405],[OH,3628.3,3,192]]},
  {c:'#000', pts:[[OH,3617.1,0,0.0484],[OH,3617.1,1,0.0959]]},
  {c:'#ff7070', pts:[[OD,2695.0,0,0.0169],[OD,2695.0,0,-0.021],[OH,3654.5,0,-0.021],[OH,3654.5,4,405],[OH,3658.9,4,405],[OH,3658.9,4,134]]},
  {c:RED, pts:[[OH,3654.5,4,405],[OH,3653.3,4,405],[OH,3653.3,4,174]]},
  {c:BLUE, pts:[[OD,2685.1,0,0.005],[OD,2685.1,0,-0.031],[OH,3635.8,0,-0.031],[OH,3635.8,4,405],[OH,3638.0,4,405],[OH,3638.0,4,189]]}
];
const graphics = connectors.map(cn => ({
  type:'polyline', silent:true, z:1,
  shape:{points: cn.pts.map(p => [chart.convertToPixel({xAxisIndex:p[0]}, p[1]), chart.convertToPixel({yAxisIndex:p[2]}, p[3])])},
  style:{stroke:cn.c, lineWidth:1.2, lineDash:[1.6,1.6], fill:null}
}));
chart.setOption({graphic: graphics});
</script></body></html>
